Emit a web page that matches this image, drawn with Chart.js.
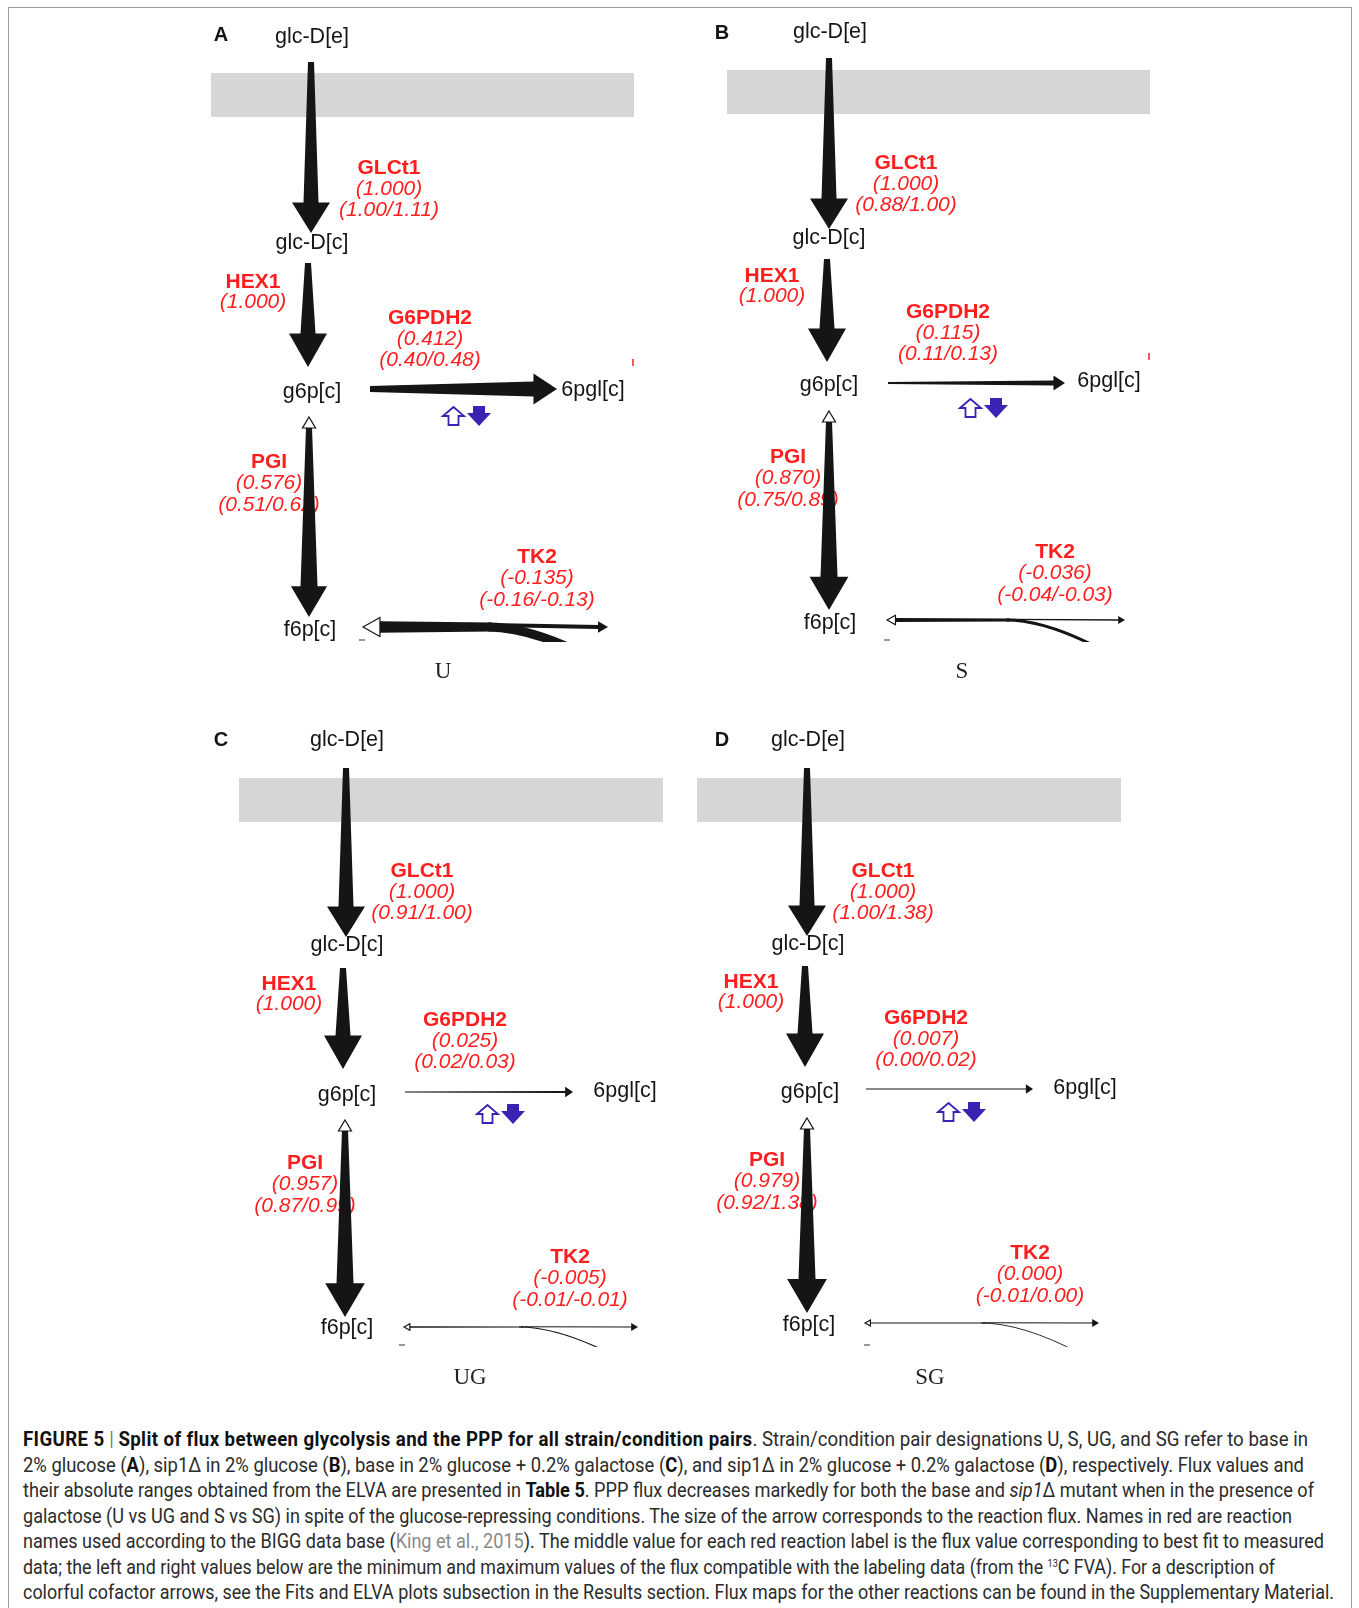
<!DOCTYPE html>
<html>
<head>
<meta charset="utf-8">
<script src="https://cdn.jsdelivr.net/npm/chart.js@4.4.1/dist/chart.umd.min.js"></script>
<style>
  body { margin: 0; background: #fff; width: 1359px; height: 1608px; overflow: hidden; position: relative; }
  #frame { position: absolute; left: 8px; top: 7px; width: 1342px; height: 1700px; border: 1.5px solid #9c9c9c; }
  #flux { position: absolute; left: 0; top: 0; }
  #caption { position: absolute; left: 23px; top: 1427px; font-family: Roboto, "Liberation Sans", sans-serif;
             font-size: 19.5px; color: #2b2b2b; }
  #caption div { white-space: nowrap; height: 25.5px; line-height: 25.5px; }
  #caption .ln { display: inline-block; transform-origin: 0 50%; }
  #caption b { font-weight: bold; color: #111; }
  #caption .title { letter-spacing: 0.4px; }
  #caption .ref { color: #8a8a8a; }
  #caption .bar { color: #777; }
  #caption sup { font-size: 10px; vertical-align: 7px; line-height: 0; }
</style>
</head>
<body>
<div id="frame"></div>
<canvas id="flux" width="1359" height="1400"></canvas>
<div id="caption">
  <div><span class="ln" data-w="1285"><b class="title">FIGURE 5</b> <span class="bar">|</span> <b class="title">Split of flux between glycolysis and the PPP for all strain/condition pairs</b>. Strain/condition pair designations U, S, UG, and SG refer to base in</span></div>
  <div><span class="ln" data-w="1281">2% glucose (<b>A</b>), sip1Δ in 2% glucose (<b>B</b>), base in 2% glucose + 0.2% galactose (<b>C</b>), and sip1Δ in 2% glucose + 0.2% galactose (<b>D</b>), respectively. Flux values and</span></div>
  <div><span class="ln" data-w="1291">their absolute ranges obtained from the ELVA are presented in <b>Table 5</b>. PPP flux decreases markedly for both the base and <i>sip1</i>Δ mutant when in the presence of</span></div>
  <div><span class="ln" data-w="1269">galactose (U vs UG and S vs SG) in spite of the glucose-repressing conditions. The size of the arrow corresponds to the reaction flux. Names in red are reaction</span></div>
  <div><span class="ln" data-w="1301">names used according to the BIGG data base (<span class="ref">King et al., 2015</span>). The middle value for each red reaction label is the flux value corresponding to best fit to measured</span></div>
  <div><span class="ln" data-w="1252">data; the left and right values below are the minimum and maximum values of the flux compatible with the labeling data (from the <sup>13</sup>C FVA). For a description of</span></div>
  <div><span class="ln" data-w="1311">colorful cofactor arrows, see the Fits and ELVA plots subsection in the Results section. Flux maps for the other reactions can be found in the Supplementary Material.</span></div>
</div>
<script>
// flux values per strain/condition pair (panels A-D)
const panels = ["A", "B", "C", "D"];
const conditions = ["U", "S", "UG", "SG"];
const glct1Flux = [1.000, 1.000, 1.000, 1.000];
const glct1Range = ["1.00/1.11", "0.88/1.00", "0.91/1.00", "1.00/1.38"];
const hex1Flux = [1.000, 1.000, 1.000, 1.000];
const g6pdh2Flux = [0.412, 0.115, 0.025, 0.007];
const g6pdh2Range = ["0.40/0.48", "0.11/0.13", "0.02/0.03", "0.00/0.02"];
const pgiFlux = [0.576, 0.870, 0.957, 0.979];
const pgiRange = ["0.51/0.62", "0.75/0.89", "0.87/0.99", "0.92/1.38"];
const tk2Flux = [-0.135, -0.036, -0.005, 0.000];
const tk2Range = ["-0.16/-0.13", "-0.04/-0.03", "-0.01/-0.01", "-0.01/0.00"];

// where each map sits on the page (page pixel units)
const layout = [
  { letter: [221, 35], glcE: [312, 37], bar: [211, 73, 634, 117], glcArrow: [311, 62, 233], glcLbl: [389, 168], glcC: [312, 243],
    hexArrow: [308, 263, 367], hexLbl: [253, 282], g6p: [312, 392], g6pdArrow: [370, 557, 389], g6pdLbl: [430, 318],
    pgl: [593, 390], tick: [633, 363], cof: [442, 406], pgiArrow: [309, 417, 617], pgiLbl: [269, 462], f6p: [310, 630],
    tk2: [363, 608, 627, 492, 560, 642], tk2Lbl: [537, 557], mark: [362, 640], cond: [443, 672] },
  { letter: [722, 33], glcE: [830, 32], bar: [727, 70, 1150, 114], glcArrow: [829, 58, 229], glcLbl: [906, 163], glcC: [829, 238],
    hexArrow: [827, 259, 362], hexLbl: [772, 276], g6p: [829, 385], g6pdArrow: [888, 1065, 383], g6pdLbl: [948, 312],
    pgl: [1109, 381], tick: [1149, 357], cof: [959, 398], pgiArrow: [829, 411, 610], pgiLbl: [788, 457], f6p: [830, 623],
    tk2: [887, 1125, 620, 1010, 1087, 642], tk2Lbl: [1055, 552], mark: [887, 640], cond: [962, 672] },
  { letter: [221, 740], glcE: [347, 740], bar: [239, 778, 663, 822], glcArrow: [346, 768, 937], glcLbl: [422, 871], glcC: [347, 945],
    hexArrow: [343, 968, 1069], hexLbl: [289, 984], g6p: [347, 1095], g6pdArrow: [405, 573, 1092], g6pdLbl: [465, 1020],
    pgl: [625, 1091], tick: null, cof: [476, 1104], pgiArrow: [345, 1120, 1317], pgiLbl: [305, 1163], f6p: [347, 1328],
    tk2: [404, 638, 1327, 523, 598, 1347], tk2Lbl: [570, 1257], mark: [402, 1345], cond: [470, 1378] },
  { letter: [722, 740], glcE: [808, 740], bar: [697, 778, 1121, 822], glcArrow: [807, 768, 936], glcLbl: [883, 871], glcC: [808, 944],
    hexArrow: [805, 966, 1067], hexLbl: [751, 982], g6p: [810, 1092], g6pdArrow: [866, 1033, 1089], g6pdLbl: [926, 1018],
    pgl: [1085, 1088], tick: null, cof: [937, 1102], pgiArrow: [807, 1118, 1313], pgiLbl: [767, 1160], f6p: [809, 1325],
    tk2: [865, 1099, 1323, 985, 1067, 1347], tk2Lbl: [1030, 1253], mark: [867, 1345], cond: [930, 1378] }
];

const RED = "#ff1e1e";
const PURPLE = "#3b22b2";
const INK = "#151515";
const SANS = "'Liberation Sans', Arial, sans-serif";

// arrow size follows the flux
function headSize(f) {
  f = Math.abs(f);
  return f < 0.45 ? 9 + 24 * f / 0.45 : 33 + 5 * Math.min(1, (f - 0.45) / 0.55);
}
function shaftEnd(f) {
  return 1 + Math.min(14, Math.abs(f) * 34);
}

function taperArrow(ctx, x0, y0, x1, y1, w0, w1, hw, hl) {
  const len = Math.hypot(x1 - x0, y1 - y0);
  const ux = (x1 - x0) / len, uy = (y1 - y0) / len;
  const nx = -uy, ny = ux;
  const bx = x1 - ux * hl, by = y1 - uy * hl;
  ctx.beginPath();
  ctx.moveTo(x0 + nx * w0 / 2, y0 + ny * w0 / 2);
  ctx.lineTo(bx + nx * w1 / 2, by + ny * w1 / 2);
  ctx.lineTo(bx + nx * hw / 2, by + ny * hw / 2);
  ctx.lineTo(x1, y1);
  ctx.lineTo(bx - nx * hw / 2, by - ny * hw / 2);
  ctx.lineTo(bx - nx * w1 / 2, by - ny * w1 / 2);
  ctx.lineTo(x0 - nx * w0 / 2, y0 - ny * w0 / 2);
  ctx.closePath();
  ctx.fill();
}

function openTriangle(ctx, tx, ty, dx, dy, w, l) {
  const nx = -dy, ny = dx;
  ctx.beginPath();
  ctx.moveTo(tx, ty);
  ctx.lineTo(tx - dx * l + nx * w / 2, ty - dy * l + ny * w / 2);
  ctx.lineTo(tx - dx * l - nx * w / 2, ty - dy * l - ny * w / 2);
  ctx.closePath();
  ctx.fillStyle = "#fff";
  ctx.fill();
  ctx.lineWidth = 1.2;
  ctx.strokeStyle = INK;
  ctx.stroke();
}

function label(ctx, text, x, y, font, color) {
  ctx.font = font;
  ctx.fillStyle = color;
  ctx.textAlign = "center";
  ctx.textBaseline = "middle";
  ctx.fillText(text, x, y);
}

function redLabel(ctx, lines, x, y, step) {
  lines.forEach((t, i) => {
    label(ctx, t, x, y + i * step, (i === 0 ? "bold " : "italic ") + "21px " + SANS, RED);
  });
}

function cofactors(ctx, x, y) {
  // open up-arrow
  ctx.beginPath();
  ctx.moveTo(x + 1, y + 10);
  ctx.lineTo(x + 11.5, y + 1);
  ctx.lineTo(x + 22, y + 10);
  ctx.lineTo(x + 16.5, y + 10);
  ctx.lineTo(x + 16.5, y + 19);
  ctx.lineTo(x + 6.5, y + 19);
  ctx.lineTo(x + 6.5, y + 10);
  ctx.closePath();
  ctx.fillStyle = "#fff";
  ctx.fill();
  ctx.lineWidth = 1.8;
  ctx.strokeStyle = PURPLE;
  ctx.stroke();
  // filled down-arrow
  const x2 = x + 25;
  ctx.beginPath();
  ctx.moveTo(x2 + 6, y);
  ctx.lineTo(x2 + 18, y);
  ctx.lineTo(x2 + 18, y + 7);
  ctx.lineTo(x2 + 24, y + 7);
  ctx.lineTo(x2 + 12, y + 20);
  ctx.lineTo(x2, y + 7);
  ctx.lineTo(x2 + 6, y + 7);
  ctx.closePath();
  ctx.fillStyle = PURPLE;
  ctx.fill();
}

const fluxMapPlugin = {
  id: "fluxMap",
  afterDatasetsDraw(chart) {
    const ctx = chart.ctx;
    const sx = chart.scales.x, sy = chart.scales.y;
    const X = (v) => sx.getPixelForValue(v);
    const Y = (v) => sy.getPixelForValue(v);
    const s = (X(100) - X(0)) / 100;

    ctx.save();
    panels.forEach((p, i) => {
      const L = layout[i];

      // membrane
      ctx.fillStyle = "#d6d6d6";
      ctx.fillRect(X(L.bar[0]), Y(L.bar[1]), X(L.bar[2]) - X(L.bar[0]), Y(L.bar[3]) - Y(L.bar[1]));

      // red reaction labels (drawn under the arrows)
      redLabel(ctx, ["GLCt1", "(" + glct1Flux[i].toFixed(3) + ")", "(" + glct1Range[i] + ")"], X(L.glcLbl[0]), Y(L.glcLbl[1]), 21 * s);
      redLabel(ctx, ["HEX1", "(" + hex1Flux[i].toFixed(3) + ")"], X(L.hexLbl[0]), Y(L.hexLbl[1]), 20 * s);
      redLabel(ctx, ["G6PDH2", "(" + g6pdh2Flux[i].toFixed(3) + ")", "(" + g6pdh2Range[i] + ")"], X(L.g6pdLbl[0]), Y(L.g6pdLbl[1]), 21 * s);
      redLabel(ctx, ["PGI", "(" + pgiFlux[i].toFixed(3) + ")", "(" + pgiRange[i] + ")"], X(L.pgiLbl[0]), Y(L.pgiLbl[1]), 21.5 * s);
      redLabel(ctx, ["TK2", "(" + tk2Flux[i].toFixed(3) + ")", "(" + tk2Range[i] + ")"], X(L.tk2Lbl[0]), Y(L.tk2Lbl[1]), 21.5 * s);

      ctx.fillStyle = INK;
      // GLCt1
      let f = glct1Flux[i], hw = headSize(f) * s, w1 = shaftEnd(f) * s;
      taperArrow(ctx, X(L.glcArrow[0]), Y(L.glcArrow[1]), X(L.glcArrow[0]), Y(L.glcArrow[2]), Math.max(0.8, w1 * 0.4), w1, hw, hw * 0.8);
      // HEX1
      f = hex1Flux[i]; hw = headSize(f) * s; w1 = shaftEnd(f) * s;
      ctx.fillStyle = INK;
      taperArrow(ctx, X(L.hexArrow[0]), Y(L.hexArrow[1]), X(L.hexArrow[0]), Y(L.hexArrow[2]), Math.max(0.8, w1 * 0.4), w1, hw, hw * 0.88);
      // G6PDH2
      f = g6pdh2Flux[i]; hw = headSize(f) * s; w1 = shaftEnd(f) * s;
      taperArrow(ctx, X(L.g6pdArrow[0]), Y(L.g6pdArrow[2]), X(L.g6pdArrow[1]), Y(L.g6pdArrow[2]), Math.max(0.8, w1 * 0.4), w1, hw, hw * 0.76);
      // PGI (reversible: open head toward g6p)
      f = pgiFlux[i]; hw = headSize(f) * s; w1 = shaftEnd(f) * s;
      const ptx = X(L.pgiArrow[0]), pty = Y(L.pgiArrow[1]);
      ctx.fillStyle = INK;
      taperArrow(ctx, ptx, pty + 10 * s, ptx, Y(L.pgiArrow[2]), 6 * s, w1 + 2 * s, hw + 2 * s, hw * 0.9);
      openTriangle(ctx, ptx, pty, 0, -1, 13 * s, 11 * s);

      // TK2 (reversible, split branch cut by the panel edge)
      const [xl, xr, yl, xs, xe, yc] = L.tk2;
      const tf = Math.abs(tk2Flux[i]);
      const w = (1 + tf * 65) * s;
      const oh = (6 + tf * 95) * s, ol = oh * 0.9;
      const rh = Math.max(8, w * 1.2) * s, rl = rh * 0.85;
      ctx.save();
      ctx.beginPath();
      ctx.rect(0, 0, chart.width, Y(yc));
      ctx.clip();
      ctx.fillStyle = INK;
      ctx.strokeStyle = INK;
      // thick part from open head to split
      ctx.beginPath();
      ctx.moveTo(X(xl) + ol, Y(yl) - w * 0.6);
      ctx.lineTo(X(xs), Y(yl) - w * 0.45);
      ctx.lineTo(X(xs), Y(yl) + w * 0.45);
      ctx.lineTo(X(xl) + ol, Y(yl) + w * 0.6);
      ctx.closePath();
      ctx.fill();
      // branch curving down
      ctx.beginPath();
      ctx.lineWidth = w * 0.9;
      ctx.lineCap = "butt";
      ctx.moveTo(X(xs) - 4 * s, Y(yl));
      ctx.quadraticCurveTo(X(xs + (xe - xs) * 0.45), Y(yl), X(xe) + (X(xe) - X(xs)) * 0.15, Y(yc) + 6 * s);
      ctx.stroke();
      // thin line to filled head
      ctx.lineWidth = Math.max(1.1 * s, w * 0.4);
      ctx.beginPath();
      ctx.moveTo(X(xs) - 2 * s, Y(yl) - w * 0.2);
      ctx.lineTo(X(xr) - rl + 1, Y(yl));
      ctx.stroke();
      ctx.beginPath();
      ctx.moveTo(X(xr), Y(yl));
      ctx.lineTo(X(xr) - rl, Y(yl) - rh / 2);
      ctx.lineTo(X(xr) - rl, Y(yl) + rh / 2);
      ctx.closePath();
      ctx.fill();
      ctx.restore();
      openTriangle(ctx, X(xl), Y(yl), -1, 0, oh, ol);

      // small cut fragments at the lower edge
      ctx.strokeStyle = "#555";
      ctx.lineWidth = 1.2 * s;
      ctx.beginPath();
      ctx.moveTo(X(L.mark[0]) - 3 * s, Y(L.mark[1]));
      ctx.lineTo(X(L.mark[0]) + 3 * s, Y(L.mark[1]));
      ctx.stroke();

      // cofactor arrows
      cofactors(ctx, X(L.cof[0]), Y(L.cof[1]));

      // cut red tick at right edge
      if (L.tick) {
        ctx.strokeStyle = RED;
        ctx.lineWidth = 1.5 * s;
        ctx.beginPath();
        ctx.moveTo(X(L.tick[0]), Y(L.tick[1]) - 4 * s);
        ctx.lineTo(X(L.tick[0]), Y(L.tick[1]) + 3 * s);
        ctx.stroke();
      }

      // metabolites
      const mfont = "21.5px " + SANS;
      label(ctx, "glc-D[e]", X(L.glcE[0]), Y(L.glcE[1]), mfont, INK);
      label(ctx, "glc-D[c]", X(L.glcC[0]), Y(L.glcC[1]), mfont, INK);
      label(ctx, "g6p[c]", X(L.g6p[0]), Y(L.g6p[1]), mfont, INK);
      label(ctx, "6pgl[c]", X(L.pgl[0]), Y(L.pgl[1]), mfont, INK);
      label(ctx, "f6p[c]", X(L.f6p[0]), Y(L.f6p[1]), mfont, INK);

      // panel letter and condition
      label(ctx, p, X(L.letter[0]), Y(L.letter[1]), "bold 20px " + SANS, INK);
      label(ctx, conditions[i], X(L.cond[0]), Y(L.cond[1]), "23px 'Liberation Serif', 'Times New Roman', serif", "#222");
    });
    ctx.restore();
  }
};

new Chart(document.getElementById("flux"), {
  type: "scatter",
  data: { datasets: [{ data: [], pointRadius: 0 }] },
  options: {
    responsive: false,
    animation: false,
    events: [],
    layout: { padding: 0 },
    plugins: { legend: { display: false }, tooltip: { enabled: false } },
    scales: {
      x: { type: "linear", min: 0, max: 1359, display: false },
      y: { type: "linear", min: 0, max: 1400, reverse: true, display: false }
    }
  },
  plugins: [fluxMapPlugin]
});

// fit each caption line to its printed width
document.querySelectorAll("#caption .ln").forEach((el) => {
  const w = el.getBoundingClientRect().width;
  el.style.transform = "scaleX(" + (Number(el.dataset.w) / w) + ")";
});
</script>
</body>
</html>
